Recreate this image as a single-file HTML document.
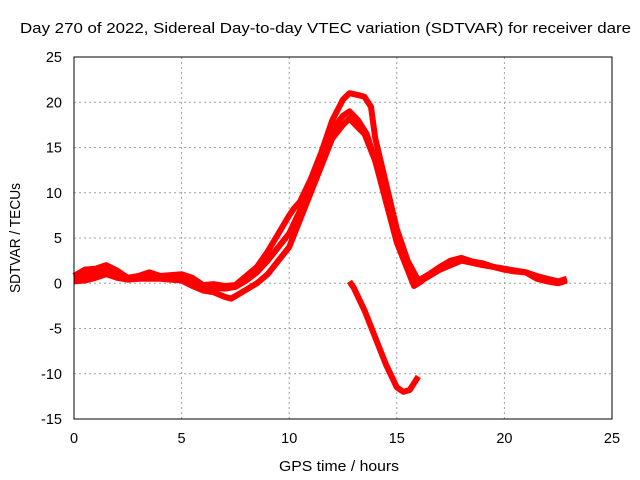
<!DOCTYPE html>
<html><head><meta charset="utf-8"><style>
body{margin:0;background:#fff}
svg{display:block;font-family:"Liberation Sans",sans-serif}
</style></head><body>
<svg id="chart" width="640" height="480">
<rect width="640" height="480" fill="#fff"/>
<text x="20" y="33" font-size="14.5" textLength="611" lengthAdjust="spacingAndGlyphs">Day 270 of 2022, Sidereal Day-to-day VTEC variation (SDTVAR) for receiver dare</text>
<g id="grid"></g>
<g id="series"></g>
<rect x="74" y="57" width="538" height="362" fill="none" stroke="#000" stroke-width="1"/>
<g id="ticks"></g>
<text x="279" y="471" font-size="14.5" textLength="120" lengthAdjust="spacingAndGlyphs">GPS time / hours</text>
<text transform="translate(20,238) rotate(-90)" font-size="14.5" text-anchor="middle" textLength="110" lengthAdjust="spacingAndGlyphs">SDTVAR / TECUs</text>
</svg>
<script>
const xTicks=[0,5,10,15,20,25];
const yTicks=[-15,-10,-5,0,5,10,15,20,25];
const upperHours=[0,0.5,1,1.5,2,2.5,3,3.5,4,4.5,5,5.5,6,6.5,7,7.5,8,8.5,9,9.5,10,10.2,10.5,11,11.5,12,12.5,12.8,13.2,13.5,13.8,14,14.5,15,15.5,16,16.5,17,17.5,18,18.5,19,19.5,20,20.5,21,21.5,22,22.5,22.9];
const upperVals=[0.8,1.5,1.6,2.0,1.4,0.6,0.8,1.2,0.8,0.9,1.0,0.6,-0.2,-0.1,-0.3,-0.2,0.8,1.8,3.5,5.5,7.5,8.2,9,11.5,14.5,18,20.3,21,20.8,20.6,19.5,16,11,6,2.5,0.3,1,1.8,2.5,2.8,2.4,2.2,1.8,1.5,1.3,1.2,0.8,0.5,0.2,0.5];
const midHours=[0,0.5,1,1.5,2,2.5,3,4,5,5.5,6,6.5,7,7.5,8,8.5,9,9.5,10,10.5,11,11.5,12,12.5,12.8,13.2,13.6,14,14.5,15,15.5,15.9,16.3,17,18,19,20,21,21.5,22,22.5,22.9];
const midVals=[0.5,0.8,1.2,1.5,1.0,0.5,0.7,0.7,0.6,0,-0.4,-0.5,-0.6,-0.4,0.3,1.2,2.5,4,5.5,8,11,14,17,18.5,19,18,16.5,13.5,9.5,5,2,0,0.5,1.5,2.5,2,1.6,1.2,0.5,0.2,0,0.3];
const lowerHours=[0,0.5,1,1.5,2,2.5,3,4,5,5.5,6,6.5,7,7.3,7.8,8.5,9,9.5,10,10.5,11,11.5,12,12.5,12.8,13.2,13.5,14,14.5,15,15.5,15.8,16.2];
const lowerVals=[0.2,0.3,0.6,1.0,0.6,0.4,0.5,0.5,0.3,-0.3,-0.8,-1.0,-1.5,-1.7,-1.0,0,1.0,2.5,4.0,7,10,13,16,17.5,18.2,17.2,16.5,13.5,9,4.5,1.5,-0.3,0.3];
const negHours=[12.8,13,13.5,14,14.5,15,15.3,15.6,16];
const negVals=[0.2,-0.5,-3,-6,-9,-11.5,-12,-11.8,-10.3];
const X0=74,X1=612,Y0=419,Y1=57;
const sx=h=>X0+(h-0)/25*(X1-X0);
const sy=v=>Y0-(v+15)/40*(Y0-Y1);
const NS="http://www.w3.org/2000/svg";
const grid=document.getElementById('grid'),ticks=document.getElementById('ticks'),ser=document.getElementById('series');
xTicks.forEach(t=>{
 const x=sx(t);
 if(t>0&&t<25){const l=document.createElementNS(NS,'line');l.setAttribute('x1',x);l.setAttribute('x2',x);l.setAttribute('y1',Y1);l.setAttribute('y2',Y0);l.setAttribute('stroke','#a0a0a0');l.setAttribute('stroke-dasharray','2,3');
 
 
 grid.appendChild(l);}
 const tx=document.createElementNS(NS,'text');tx.setAttribute('x',x);tx.setAttribute('y',443);tx.setAttribute('font-size','14.5');tx.setAttribute('text-anchor','middle');tx.textContent=t;
 
 
 ticks.appendChild(tx);
});
yTicks.forEach(t=>{
 const y=sy(t);
 if(t>-15&&t<25){const l=document.createElementNS(NS,'line');l.setAttribute('x1',X0);l.setAttribute('x2',X1);l.setAttribute('y1',y);l.setAttribute('y2',y);l.setAttribute('stroke','#a0a0a0');l.setAttribute('stroke-dasharray','2,3');
 
 
 grid.appendChild(l);}
 const tx=document.createElementNS(NS,'text');tx.setAttribute('x',62);tx.setAttribute('y',y+5);tx.setAttribute('font-size','14.5');tx.setAttribute('text-anchor','end');tx.textContent=t;
 
 
 ticks.appendChild(tx);
});
function draw(hs,vs,name){
 const p=document.createElementNS(NS,'polyline');
 p.setAttribute('points',hs.map((h,i)=>sx(h)+','+sy(vs[i])).join(' '));
 p.setAttribute('fill','none');p.setAttribute('stroke','#ff0000');p.setAttribute('stroke-width','6');p.setAttribute('stroke-linejoin','round');
 
 
 ser.appendChild(p);
}
draw(upperHours,upperVals,'sdtvar-trace-upper');
draw(midHours,midVals,'sdtvar-trace-middle');
draw(lowerHours,lowerVals,'sdtvar-trace-lower');
draw(negHours,negVals,'sdtvar-trace-negative');
</script>
</body></html>
